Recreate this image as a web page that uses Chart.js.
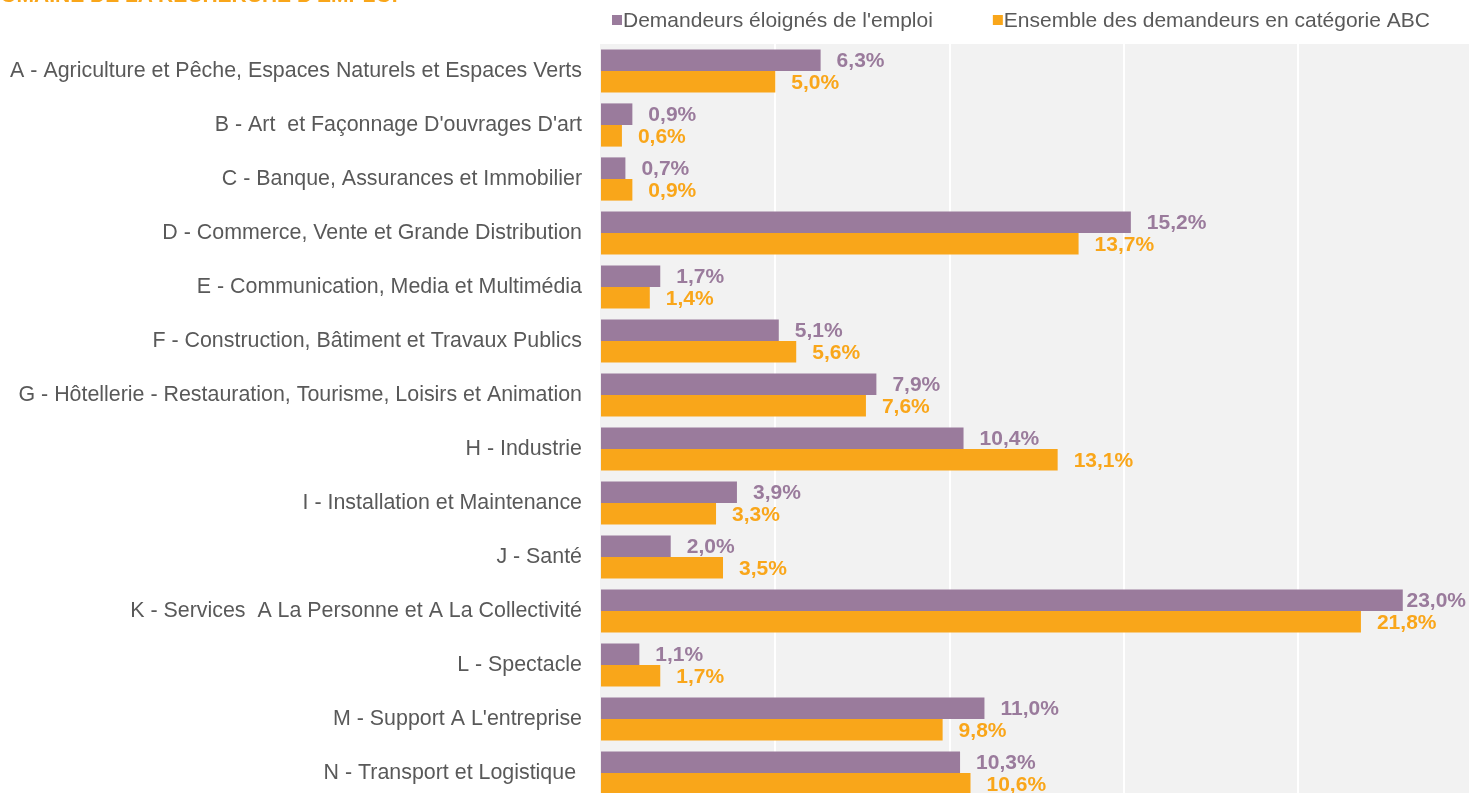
<!DOCTYPE html>
<html>
<head>
<meta charset="utf-8">
<script src="https://cdn.jsdelivr.net/npm/chart.js@4/dist/chart.umd.min.js"></script>
<style>
  html, body { margin: 0; padding: 0; background: #ffffff; overflow: hidden; }
  #wrap { position: relative; width: 1469px; height: 800px; }
  #title { position: absolute; left: -15px; top: -16px; font-family: "Liberation Sans", Arial, sans-serif; font-weight: bold; font-size: 21px; line-height: 21px; color: #f9a61a; white-space: nowrap; }
  canvas { position: absolute; left: 0; top: 0; }
</style>
</head>
<body>
<div id="wrap">
  <canvas id="c" width="1469" height="800"></canvas>
  <div id="title">DOMAINE DE LA RECHERCHE D'EMPLOI</div>
</div>
<script>
const categories = [
  "A - Agriculture et Pêche, Espaces Naturels et Espaces Verts",
  "B - Art  et Façonnage D'ouvrages D'art",
  "C - Banque, Assurances et Immobilier",
  "D - Commerce, Vente et Grande Distribution",
  "E - Communication, Media et Multimédia",
  "F - Construction, Bâtiment et Travaux Publics",
  "G - Hôtellerie - Restauration, Tourisme, Loisirs et Animation",
  "H - Industrie",
  "I - Installation et Maintenance",
  "J - Santé",
  "K - Services  A La Personne et A La Collectivité",
  "L - Spectacle",
  "M - Support A L'entreprise",
  "N - Transport et Logistique "
];
const seriesNames = ["Demandeurs éloignés de l'emploi", "Ensemble des demandeurs en catégorie ABC"];
const eloignes = [6.3, 0.9, 0.7, 15.2, 1.7, 5.1, 7.9, 10.4, 3.9, 2.0, 23.0, 1.1, 11.0, 10.3];
const ensembleABC = [5.0, 0.6, 0.9, 13.7, 1.4, 5.6, 7.6, 13.1, 3.3, 3.5, 21.8, 1.7, 9.8, 10.6];
const gridTicks = [5, 10, 15, 20];

const PURPLE = '#9a7b9c';
const ORANGE = '#f9a61a';
const FONT = '"Liberation Sans", Arial, sans-serif';

const fmt = v => v.toFixed(1).replace('.', ',') + '%';

const bgPlugin = {
  id: 'plotBg',
  beforeDatasetsDraw(chart) {
    const a = chart.chartArea, ctx = chart.ctx;
    const xs = chart.scales.x;
    ctx.save();
    ctx.fillStyle = '#f2f2f2';
    ctx.fillRect(a.left - 1, a.top, a.right - a.left + 1, a.bottom - a.top);
    ctx.strokeStyle = '#ffffff';
    ctx.lineWidth = 2;
    gridTicks.forEach(v => {
      const x = Math.round(xs.getPixelForValue(v));
      ctx.beginPath();
      ctx.moveTo(x, a.top);
      ctx.lineTo(x, a.bottom);
      ctx.stroke();
    });
    ctx.restore();
  }
};

const valueLabels = {
  id: 'valueLabels',
  afterDatasetsDraw(chart) {
    const ctx = chart.ctx;
    ctx.save();
    ctx.font = 'bold 21px ' + FONT;
    ctx.textBaseline = 'middle';
    ctx.textAlign = 'left';
    chart.data.datasets.forEach((ds, i) => {
      const meta = chart.getDatasetMeta(i);
      ctx.fillStyle = ds.backgroundColor;
      meta.data.forEach((bar, j) => {
        const txt = fmt(ds.data[j]);
        const w = ctx.measureText(txt).width;
        let x = bar.x + 16;
        if (x + w > chart.width - 3) x = chart.width - 3 - w;
        ctx.fillText(txt, x, bar.y + 1);
      });
    });
    ctx.restore();
  }
};

const customLegend = {
  id: 'customLegend',
  afterDraw(chart) {
    const ctx = chart.ctx;
    ctx.save();
    ctx.font = '21px ' + FONT;
    ctx.textBaseline = 'middle';
    let x = 612;
    const y = 20;
    chart.data.datasets.forEach((ds, i) => {
      ctx.fillStyle = ds.backgroundColor;
      ctx.fillRect(x, y - 5, 10, 10);
      ctx.fillStyle = '#595959';
      ctx.fillText(ds.label, x + 11, y + 1);
      x += 11 + ctx.measureText(ds.label).width + 60;
    });
    ctx.restore();
  }
};

new Chart(document.getElementById('c'), {
  type: 'bar',
  data: {
    labels: categories,
    datasets: [
      { label: seriesNames[0], data: eloignes, backgroundColor: PURPLE, categoryPercentage: 0.8, barPercentage: 1.0 },
      { label: seriesNames[1], data: ensembleABC, backgroundColor: ORANGE, categoryPercentage: 0.8, barPercentage: 1.0 }
    ]
  },
  options: {
    indexAxis: 'y',
    responsive: false,
    animation: false,
    devicePixelRatio: 1,
    layout: { padding: { top: 44, left: 0, right: 0, bottom: 0 } },
    plugins: { legend: { display: false }, tooltip: { enabled: false }, title: { display: false } },
    scales: {
      x: {
        display: false,
        min: 0, max: 24.9
      },
      y: {
        afterFit(scale) { scale.width = 601; scale.paddingTop = 0; scale.paddingBottom = 0; },
        border: { display: false },
        grid: { display: false, drawTicks: false },
        ticks: { color: '#595959', padding: 19, font: { family: FONT, size: 21.4 } }
      }
    }
  },
  plugins: [bgPlugin, valueLabels, customLegend]
});
</script>
</body>
</html>
